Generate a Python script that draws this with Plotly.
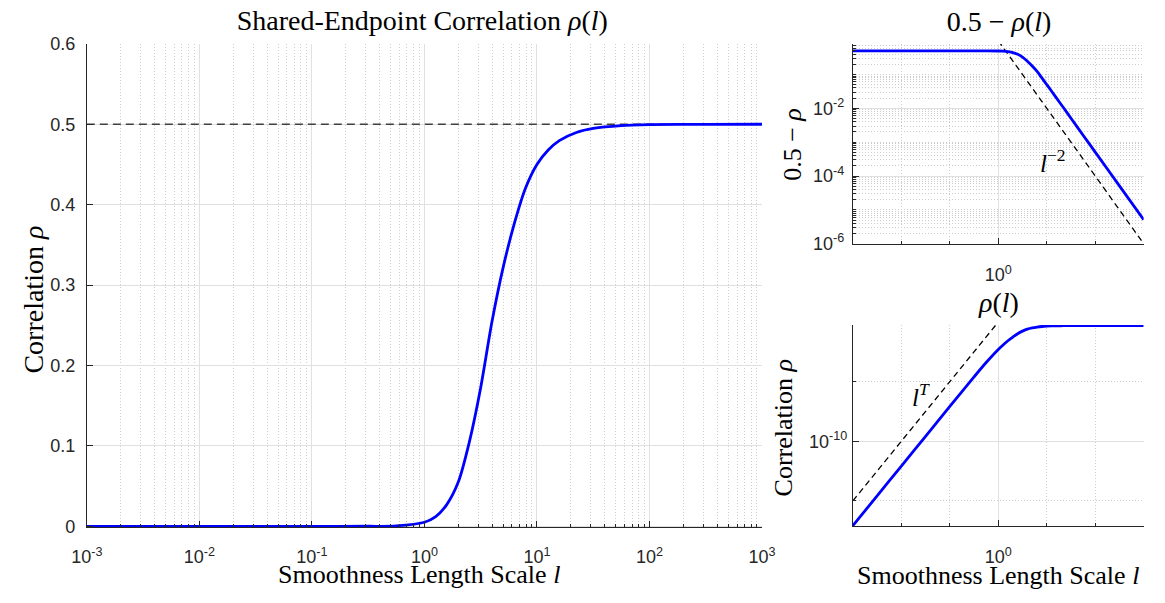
import plotly.graph_objects as go

# ---------------- data ----------------
# smoothness length scale l
l_vals = [0.001, 0.00316, 0.01, 0.0316, 0.1, 0.316, 0.562, 1.0, 1.26, 1.58,
          2.0, 2.51, 3.16, 3.98, 5.01, 6.31, 7.94, 10.0, 12.6, 15.8,
          22.4, 31.6, 56.2, 100.0, 316.0, 1000.0]
# correlation rho(l)
rho_vals = [8.3e-18, 2.6e-15, 8.3e-13, 2.6e-10, 8.3e-8, 2.5e-5, 4.0e-4, 0.0050, 0.012, 0.027,
            0.055, 0.105, 0.172, 0.254, 0.322, 0.377, 0.421, 0.450, 0.468, 0.4797,
            0.4898, 0.4949, 0.4984, 0.4995, 0.49995, 0.499995]
# gap 0.5 - rho(l)
gap_vals = [0.5, 0.5, 0.5, 0.5, 0.5, 0.49998, 0.4996, 0.495, 0.488, 0.473,
            0.445, 0.395, 0.328, 0.246, 0.178, 0.123, 0.079, 0.050, 0.032, 0.0203,
            0.0102, 0.0051, 0.0016, 5.1e-4, 5.1e-5, 5.1e-6]
# asymptote reference lines
asym_limit_l = [0.001, 1000.0]
asym_limit_y = [0.5, 0.5]
slope_m2_l = [1.0, 1000.0]
slope_m2_y = [1.0, 1e-6]
slope_T_l = [0.001, 1.0]
slope_T_y = [1e-15, 1.0]

# tick labels
main_xticks = [1e-3, 1e-2, 1e-1, 1, 10, 100, 1000]
main_xtext = ["10<sup>-3</sup>", "10<sup>-2</sup>", "10<sup>-1</sup>", "10<sup>0</sup>",
              "10<sup>1</sup>", "10<sup>2</sup>", "10<sup>3</sup>"]
main_yticks = [0, 0.1, 0.2, 0.3, 0.4, 0.5, 0.6]
main_ytext = ["0", "0.1", "0.2", "0.3", "0.4", "0.5", "0.6"]
tr_yticks = [1e-6, 1e-4, 1e-2]
tr_ytext = ["10<sup>-6</sup>", "10<sup>-4</sup>", "10<sup>-2</sup>"]
br_yticks = [1e-10]
br_ytext = ["10<sup>-10</sup>"]

W, H = 1165, 603
def px(x):
    return x / W
def py(y):
    return 1 - y / H

BLUE = "#0000ff"
AX = "#262626"
GRID = "#e0e0e0"
MINOR = "#cdcdcd"
SERIF = "Liberation Serif"
SANS = "Liberation Sans"

# minor tick positions
decades = [1e-3, 1e-2, 1e-1, 1, 10, 100]
main_minor = [k * d for d in decades for k in range(2, 10)]
small_x_minor = [1e-3, 1e-2, 1e-1, 10, 100, 1000]
tr_minor = [k * d for d in [1e-6, 1e-5, 1e-4, 1e-3, 1e-2, 1e-1] for k in range(1, 10)
            if not (k == 1 and d in (1e-6, 1e-4, 1e-2))]
br_minor = [1e-15, 1e-5]

fig = go.Figure()

# main panel
fig.add_trace(go.Scatter(x=asym_limit_l, y=asym_limit_y, mode="lines",
                         line=dict(color="#404040", width=1.5, dash="8px,5px"),
                         xaxis="x", yaxis="y", showlegend=False))
fig.add_trace(go.Scatter(x=l_vals, y=rho_vals, mode="lines",
                         line=dict(color=BLUE, width=2.8, shape="spline", smoothing=0.8),
                         xaxis="x", yaxis="y", showlegend=False))
# top-right panel
fig.add_trace(go.Scatter(x=slope_m2_l, y=slope_m2_y, mode="lines",
                         line=dict(color="black", width=1.3, dash="6px,4px"),
                         xaxis="x2", yaxis="y2", showlegend=False))
fig.add_trace(go.Scatter(x=l_vals, y=gap_vals, mode="lines",
                         line=dict(color=BLUE, width=2.8, shape="spline", smoothing=0.8),
                         xaxis="x2", yaxis="y2", showlegend=False))
# bottom-right panel
fig.add_trace(go.Scatter(x=slope_T_l, y=slope_T_y, mode="lines",
                         line=dict(color="black", width=1.3, dash="6px,4px"),
                         xaxis="x3", yaxis="y3", showlegend=False))
fig.add_trace(go.Scatter(x=l_vals, y=rho_vals, mode="lines",
                         line=dict(color=BLUE, width=2.8, shape="spline", smoothing=0.8),
                         xaxis="x3", yaxis="y3", showlegend=False))

# titles placed as text on a full-page overlay axis (pixel coordinates)
title_texts = ["Shared-Endpoint Correlation <i>ρ</i>(<i>l</i>)", "0.5 − <i>ρ</i>(<i>l</i>)"]
title_x = [417, 1009]
title_y = [13, 14]
fig.add_trace(go.Scatter(x=title_x, y=title_y, mode="text", text=title_texts,
                         textposition="middle center", cliponaxis=False,
                         textfont=dict(family=SERIF, size=28, color="black"),
                         xaxis="x4", yaxis="y4", showlegend=False, hoverinfo="skip"))

def axis_common(**kw):
    d = dict(showline=True, linecolor=AX, linewidth=1, mirror=False,
             ticks="inside", ticklen=6, tickwidth=1, tickcolor=AX,
             showgrid=True, gridcolor=GRID, gridwidth=1, zeroline=False,
             tickfont=dict(family=SANS, size=18, color=AX), tickmode="array")
    d.update(kw)
    return d

def minor(vals, showticks=True):
    return dict(tickmode="array", tickvals=vals, ticks="inside" if showticks else "",
                ticklen=3, tickcolor=AX, showgrid=True, gridcolor=MINOR,
                griddash="1px,2px", gridwidth=1)

fig.update_layout(
    width=W, height=H,
    margin=dict(l=0, r=0, t=0, b=0),
    paper_bgcolor="white", plot_bgcolor="rgba(0,0,0,0)",
    xaxis=axis_common(type="log", range=[-3, 3], domain=[px(72.7), px(765.7)],
                      anchor="y", tickvals=main_xticks, ticktext=main_xtext,
                      minor=minor(main_minor), ticklabelstandoff=13),
    yaxis=axis_common(range=[-0.0015, 0.6], domain=[py(535.25), py(35)],
                      anchor="x", tickvals=main_yticks, ticktext=main_ytext,
                      ticklabelstandoff=7),
    xaxis2=axis_common(type="log", range=[-3, 3], domain=[px(859), px(1157.5)],
                       anchor="y2", tickvals=[1], ticktext=["10<sup>0</sup>"],
                       minor=minor(small_x_minor), ticklabelstandoff=15),
    yaxis2=axis_common(type="log", range=[-6, -0.1], domain=[py(241.7), py(35.2)],
                       anchor="x2", tickvals=tr_yticks, ticktext=tr_ytext,
                       minor=minor(tr_minor), ticklabelstandoff=4),
    xaxis3=axis_common(type="log", range=[-3, 3], domain=[px(859), px(1157.5)],
                       anchor="y3", tickvals=[1], ticktext=["10<sup>0</sup>"],
                       minor=minor(small_x_minor), ticklabelstandoff=14),
    yaxis3=axis_common(type="log", range=[-17.15, -0.25], domain=[py(534.2), py(325.8)],
                       anchor="x3", tickvals=br_yticks, ticktext=br_ytext,
                       minor=minor(br_minor), ticklabelstandoff=1),
    xaxis4=dict(domain=[0, 1], range=[0, W], visible=False, anchor="y4", fixedrange=True),
    yaxis4=dict(domain=[0, 1], range=[H, 0], visible=False, anchor="x4", fixedrange=True),
)

def ann(text, x, y, size, angle=0):
    fig.add_annotation(text=text, x=px(x), y=py(y), xref="paper", yref="paper",
                       showarrow=False, xanchor="center", yanchor="middle",
                       textangle=angle, font=dict(family=SERIF, size=size, color="black"))

ann("Smoothness Length Scale <i>l</i>", 414, 584, 26)
ann("Correlation <i>ρ</i>", 18, 300, 28, -90)
ann("0.5 − <i>ρ</i>", 797, 139, 26, -90)
ann("<i>ρ</i>(<i>l</i>)", 1008, 303, 28)
ann("Correlation <i>ρ</i>", 788, 432, 26, -90)
ann("Smoothness Length Scale <i>l</i>", 1008, 585, 26)
ann("<i>l</i><sup>−2</sup>", 1064, 156, 25)
ann("<i>l</i><sup><i>T</i></sup>", 929, 398, 25)

fig.write_html("out.html")
